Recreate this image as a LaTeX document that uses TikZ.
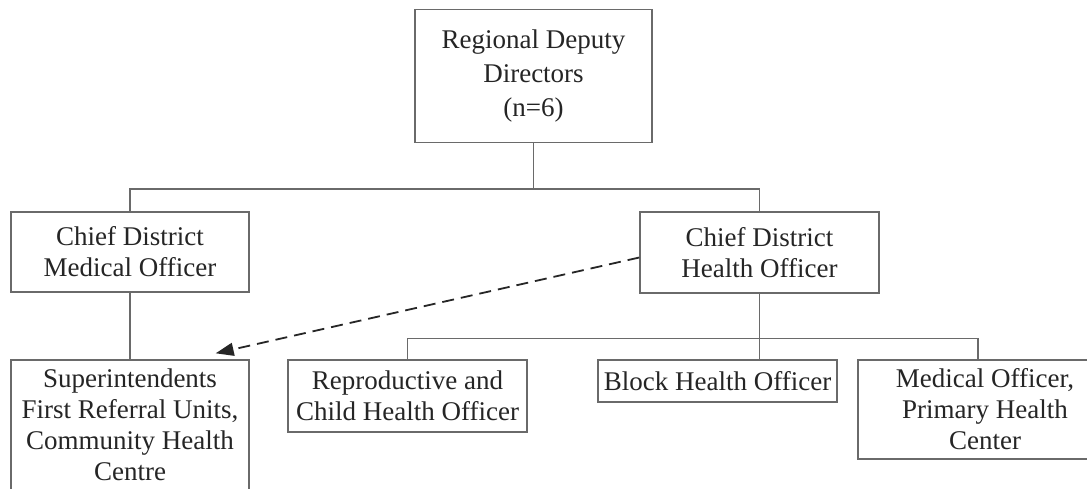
\documentclass[tikz,border=0pt]{standalone}
\usepackage{fontspec}
\setmainfont{Liberation Serif}
\usetikzlibrary{arrows.meta,calc}
\definecolor{linegray}{HTML}{6A6A6A}
\definecolor{textgray}{HTML}{252525}
\begin{document}
\begin{tikzpicture}[x=1pt,y=-1pt,
  box/.style={draw=linegray, line width=1.4pt, rectangle, align=center, inner sep=0pt,
    text=textgray, font=\fontsize{27}{31}\selectfont},
  link/.style={draw=linegray, line width=1.5pt},
  dashlink/.style={draw=black!85, line width=1.8pt, dash pattern=on 12pt off 7pt,
    -{Triangle[length=18pt,width=13pt]}}]
\useasboundingbox (0,0) rectangle (1087,488);
\clip (0,0) rectangle (1087,488);
\fill[white] (0,0) rectangle (1087,488);

\node[box, minimum width=237pt, minimum height=133pt, font=\fontsize{27}{34}\selectfont] (rdd) at (533.5,76) {Regional Deputy\\Directors\\(n=6)};
\node[box, minimum width=238pt, minimum height=80pt] (cdmo) at (130,252) {Chief District\\Medical Officer};
\node[box, minimum width=239pt, minimum height=81pt] (cdho) at (759.5,252.5) {Chief District\\Health Officer};
\node[box, minimum width=238pt, minimum height=130pt] (sup) at (130,425) {Superintendents\\First Referral Units,\\Community Health\\Centre};
\node[box, minimum width=239pt, minimum height=72pt] (rch) at (407.5,396) {Reproductive and\\Child Health Officer};
\node[box, minimum width=239pt, minimum height=42pt] (bho) at (717.5,381) {Block Health Officer};
\node[box, minimum width=240pt, minimum height=99pt] (mopc) at (978,409.5) {\hspace*{14pt}Medical Officer,\\\hspace*{14pt}Primary Health\\\hspace*{14pt}Center};

\coordinate (j1) at ($(rdd.south)+(0,46)$);
\coordinate (j2) at ($(cdho.south)+(0,45)$);
\coordinate (tip) at ($(sup.north east)+(-34,-6)$);

\draw[link] (rdd.south) -- (j1);
\draw[link] (cdmo.north) |- (j1) -| (cdho.north);
\draw[link] (cdmo.south) -- (sup.north);
\draw[link] (cdho.south) -- (cdho.south |- bho.north);
\draw[link] (rch.north) |- (j2) -| (mopc.north);
\draw[dashlink] ([yshift=-5pt]cdho.west) -- (tip);
\end{tikzpicture}
\end{document}
